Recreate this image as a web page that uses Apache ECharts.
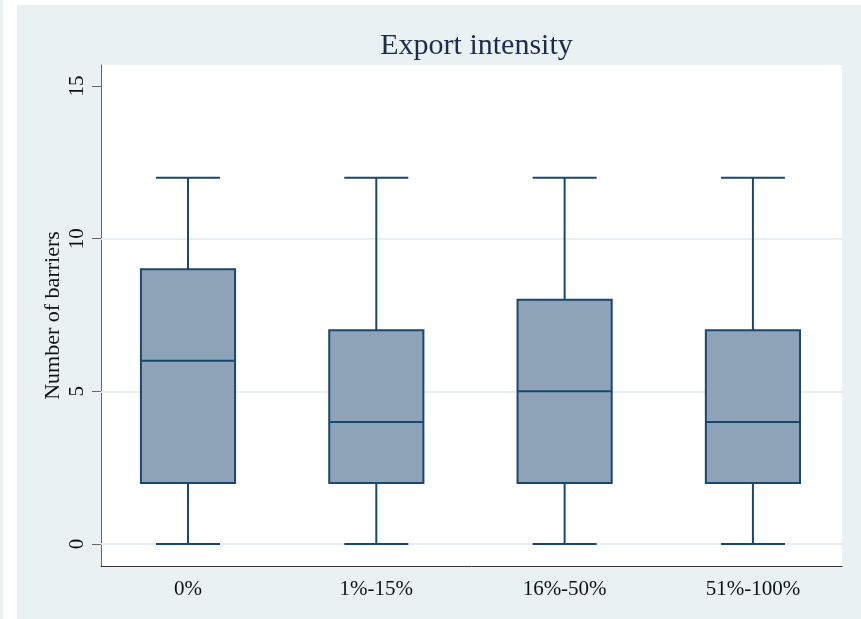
<!DOCTYPE html>
<html>
<head>
<meta charset="utf-8">
<title>Export intensity</title>
<script src="https://cdn.jsdelivr.net/npm/echarts@6/dist/echarts.min.js"></script>
<style>
  html, body { margin: 0; padding: 0; background: #ffffff; }
  #chart { width: 861px; height: 619px; }
</style>
</head>
<body>
<div id="chart"></div>
<script>
// Number of barriers by export intensity (box-and-whisker summary)
const categories = ['0%', '1%-15%', '16%-50%', '51%-100%'];
const whiskerLow = [0, 0, 0, 0];
const quartile1 = [2, 2, 2, 2];
const medians = [6, 4, 5, 4];
const quartile3 = [9, 7, 8, 7];
const whiskerHigh = [12, 12, 12, 12];
const yTickValues = [0, 5, 10, 15];
const yGridValues = [0, 5, 10];

const serif = "'Liberation Serif', 'Times New Roman', 'DejaVu Serif', serif";
const navy = '#1a476f';
const boxFill = '#8ea3b8';

const boxData = categories.map((c, i) => [i, whiskerLow[i], quartile1[i], medians[i], quartile3[i], whiskerHigh[i]]);

function renderBox(params, api) {
  const i = api.value(0);
  const lo = api.value(1), q1 = api.value(2), med = api.value(3), q3 = api.value(4), hi = api.value(5);
  const halfBox = 0.25, halfCap = 0.17;
  const pLo = api.coord([i, lo]);
  const pQ1 = api.coord([i, q1]);
  const pQ3 = api.coord([i, q3]);
  const pHi = api.coord([i, hi]);
  const boxL = api.coord([i - halfBox, q3]);
  const boxR = api.coord([i + halfBox, q1]);
  const medL = api.coord([i - halfBox, med]);
  const medR = api.coord([i + halfBox, med]);
  const capLoL = api.coord([i - halfCap, lo]);
  const capLoR = api.coord([i + halfCap, lo]);
  const capHiL = api.coord([i - halfCap, hi]);
  const capHiR = api.coord([i + halfCap, hi]);
  const lineStyle = { stroke: navy, lineWidth: 2 };
  return {
    type: 'group',
    children: [
      { type: 'line', shape: { x1: pLo[0], y1: pLo[1], x2: pQ1[0], y2: pQ1[1] }, style: lineStyle },
      { type: 'line', shape: { x1: pQ3[0], y1: pQ3[1], x2: pHi[0], y2: pHi[1] }, style: lineStyle },
      { type: 'line', shape: { x1: capLoL[0], y1: capLoL[1], x2: capLoR[0], y2: capLoR[1] }, style: lineStyle },
      { type: 'line', shape: { x1: capHiL[0], y1: capHiL[1], x2: capHiR[0], y2: capHiR[1] }, style: lineStyle },
      {
        type: 'rect',
        shape: { x: boxL[0], y: boxL[1], width: boxR[0] - boxL[0], height: boxR[1] - boxL[1] },
        style: { fill: boxFill, stroke: navy, lineWidth: 2 }
      },
      { type: 'line', shape: { x1: medL[0], y1: medL[1], x2: medR[0], y2: medR[1] }, style: lineStyle }
    ]
  };
}

const chart = echarts.init(document.getElementById('chart'), null, { renderer: 'canvas' });

chart.setOption({
  animation: false,
  backgroundColor: '#e9f1f3',
  graphic: [
    { type: 'rect', shape: { x: 3, y: 0, width: 14, height: 619 }, style: { fill: '#ffffff' }, silent: true },
    { type: 'rect', shape: { x: 17, y: 0, width: 844, height: 5 }, style: { fill: '#ffffff' }, silent: true }
  ],
  title: {
    text: 'Export intensity',
    left: 471.5,
    textAlign: 'center',
    top: 26,
    textStyle: { fontFamily: serif, fontSize: 30, fontWeight: 'normal', color: '#1e2b4d' }
  },
  grid: {
    left: 101, right: 19, top: 65, bottom: 53,
    show: true, backgroundColor: '#ffffff', borderWidth: 0
  },
  xAxis: {
    type: 'value',
    min: -0.462,
    max: 3.473,
    splitLine: { show: false },
    axisTick: { show: false },
    axisLine: { show: true, onZero: false, lineStyle: { color: '#333333', width: 1 } },
    axisLabel: {
      customValues: categories.map((c, i) => i),
      formatter: (v) => categories[Math.round(v)],
      margin: 13,
      fontFamily: serif,
      fontSize: 21,
      color: '#111111'
    }
  },
  yAxis: {
    type: 'value',
    min: -0.72,
    max: 15.69,
    name: 'Number of barriers',
    nameLocation: 'middle',
    nameGap: 37,
    nameMoveOverlap: false,
    nameTextStyle: { fontFamily: serif, fontSize: 22, color: '#111111' },
    axisLine: { show: true, onZero: false, lineStyle: { color: '#666666', width: 1 } },
    axisTick: { show: true, customValues: yTickValues, length: 9, lineStyle: { color: '#666666' } },
    axisLabel: {
      customValues: yTickValues,
      rotate: 90,
      margin: 13,
      fontFamily: serif,
      fontSize: 21,
      color: '#111111'
    },
    splitLine: { show: false }
  },
  series: [
    {
      type: 'line',
      data: [],
      z: 1,
      markLine: {
        silent: true,
        z: 1,
        symbol: ['none', 'none'],
        label: { show: false },
        lineStyle: { color: '#e8eff2', width: 2, type: 'solid' },
        data: yGridValues.map(v => ({ yAxis: v }))
      }
    },
    {
      type: 'custom',
      z: 10,
      renderItem: renderBox,
      encode: { x: 0, y: [1, 2, 3, 4, 5] },
      data: boxData
    }
  ]
});
</script>
</body>
</html>
